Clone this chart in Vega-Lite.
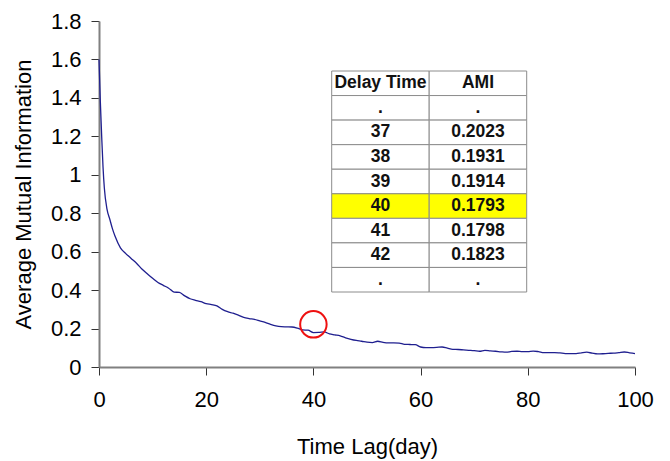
{
  "$schema": "https://vega.github.io/schema/vega-lite/v6.json",
  "width": 536,
  "height": 346,
  "autosize": "none",
  "padding": {"left": 99, "top": 21, "right": 35, "bottom": 94},
  "background": "white",
  "config": {
    "view": {"stroke": null},
    "font": "Liberation Sans"
  },
  "datasets": {
    "ami": [
      {"day": 0, "ami": 1.60}, {"day": 0.25, "ami": 1.38}, {"day": 0.5, "ami": 1.20}, {"day": 0.75, "ami": 1.04},
      {"day": 1, "ami": 0.93}, {"day": 1.5, "ami": 0.82}, {"day": 2, "ami": 0.77}, {"day": 2.5, "ami": 0.72},
      {"day": 3, "ami": 0.68}, {"day": 4, "ami": 0.62}, {"day": 5, "ami": 0.59}, {"day": 6, "ami": 0.565},
      {"day": 7, "ami": 0.54}, {"day": 8, "ami": 0.51}, {"day": 9, "ami": 0.485}, {"day": 10, "ami": 0.462},
      {"day": 11, "ami": 0.44}, {"day": 12, "ami": 0.425}, {"day": 13, "ami": 0.41}, {"day": 14, "ami": 0.39},
      {"day": 15, "ami": 0.388}, {"day": 16, "ami": 0.37}, {"day": 17, "ami": 0.355}, {"day": 18, "ami": 0.347},
      {"day": 19, "ami": 0.34}, {"day": 20, "ami": 0.33}, {"day": 21, "ami": 0.325}, {"day": 22, "ami": 0.318},
      {"day": 23, "ami": 0.30}, {"day": 24, "ami": 0.288}, {"day": 25, "ami": 0.28}, {"day": 26, "ami": 0.27},
      {"day": 27, "ami": 0.258}, {"day": 28, "ami": 0.252}, {"day": 29, "ami": 0.248}, {"day": 30, "ami": 0.24},
      {"day": 31, "ami": 0.232}, {"day": 32, "ami": 0.222}, {"day": 33, "ami": 0.214}, {"day": 34, "ami": 0.21},
      {"day": 35, "ami": 0.209}, {"day": 36, "ami": 0.208}, {"day": 37, "ami": 0.2023}, {"day": 38, "ami": 0.1931},
      {"day": 39, "ami": 0.1914}, {"day": 40, "ami": 0.1793}, {"day": 41, "ami": 0.1798}, {"day": 42, "ami": 0.1823},
      {"day": 43, "ami": 0.172}, {"day": 44, "ami": 0.167}, {"day": 45, "ami": 0.162}, {"day": 46, "ami": 0.152},
      {"day": 47, "ami": 0.144}, {"day": 48, "ami": 0.138}, {"day": 49, "ami": 0.134}, {"day": 50, "ami": 0.129},
      {"day": 51, "ami": 0.127}, {"day": 52, "ami": 0.134}, {"day": 53, "ami": 0.128}, {"day": 54, "ami": 0.125},
      {"day": 55, "ami": 0.125}, {"day": 56, "ami": 0.124}, {"day": 57, "ami": 0.118}, {"day": 58, "ami": 0.117},
      {"day": 59, "ami": 0.116}, {"day": 60, "ami": 0.104}, {"day": 61, "ami": 0.101}, {"day": 62, "ami": 0.101},
      {"day": 63, "ami": 0.102}, {"day": 64, "ami": 0.104}, {"day": 65, "ami": 0.098}, {"day": 66, "ami": 0.092},
      {"day": 67, "ami": 0.091}, {"day": 68, "ami": 0.089}, {"day": 69, "ami": 0.087}, {"day": 70, "ami": 0.085},
      {"day": 71, "ami": 0.082}, {"day": 72, "ami": 0.087}, {"day": 73, "ami": 0.084}, {"day": 74, "ami": 0.082},
      {"day": 75, "ami": 0.079}, {"day": 76, "ami": 0.077}, {"day": 77, "ami": 0.081}, {"day": 78, "ami": 0.082},
      {"day": 79, "ami": 0.080}, {"day": 80, "ami": 0.080}, {"day": 81, "ami": 0.083}, {"day": 82, "ami": 0.080},
      {"day": 83, "ami": 0.075}, {"day": 84, "ami": 0.075}, {"day": 85, "ami": 0.075}, {"day": 86, "ami": 0.073},
      {"day": 87, "ami": 0.070}, {"day": 88, "ami": 0.070}, {"day": 89, "ami": 0.070}, {"day": 90, "ami": 0.074},
      {"day": 91, "ami": 0.077}, {"day": 92, "ami": 0.072}, {"day": 93, "ami": 0.068}, {"day": 94, "ami": 0.069},
      {"day": 95, "ami": 0.071}, {"day": 96, "ami": 0.072}, {"day": 97, "ami": 0.075}, {"day": 98, "ami": 0.078},
      {"day": 99, "ami": 0.074}, {"day": 100, "ami": 0.070}
    ],
    "marker": [{"day": 40, "ami": 0.222}],
    "table": [
      {"r": "h", "delay": "Delay Time", "ami": "AMI"},
      {"r": "a", "delay": ".", "ami": "."},
      {"r": "37", "delay": "37", "ami": "0.2023"},
      {"r": "38", "delay": "38", "ami": "0.1931"},
      {"r": "39", "delay": "39", "ami": "0.1914"},
      {"r": "40", "delay": "40", "ami": "0.1793"},
      {"r": "41", "delay": "41", "ami": "0.1798"},
      {"r": "42", "delay": "42", "ami": "0.1823"},
      {"r": "z", "delay": ".", "ami": "."}
    ]
  },
  "layer": [
    {
      "encoding": {
        "x": {
          "field": "day", "type": "quantitative",
          "scale": {"domain": [0, 100], "nice": false},
          "axis": {
            "title": "Time Lag(day)", "values": [0, 20, 40, 60, 80, 100],
            "grid": false, "domainColor": "#808080", "domainWidth": 2,
            "tickColor": "#333333", "tickSize": 8, "tickWidth": 1,
            "labelFontSize": 22, "labelColor": "black", "labelPadding": 14,
            "labelOverlap": false, "labelBound": false, "labelFlush": false,
            "titleFontSize": 22, "titleFontWeight": "normal", "titleColor": "black", "titlePadding": 26
          }
        },
        "y": {
          "field": "ami", "type": "quantitative",
          "scale": {"domain": [0, 1.8], "nice": false},
          "axis": {
            "title": "Average Mutual Information", "values": [0, 0.2, 0.4, 0.6, 0.8, 1, 1.2, 1.4, 1.6, 1.8],
            "format": "~g",
            "grid": false, "domainColor": "#808080", "domainWidth": 2,
            "tickColor": "#333333", "tickSize": 8, "tickWidth": 1,
            "labelFontSize": 22, "labelColor": "black", "labelPadding": 10,
            "labelOverlap": false, "labelBound": false, "labelFlush": false,
            "titleFontSize": 22, "titleFontWeight": "normal", "titleColor": "black", "titlePadding": 15
          }
        }
      },
      "layer": [
        {
          "data": {"name": "ami"},
          "mark": {"type": "line", "color": "#1f1f8f", "strokeWidth": 1.3, "interpolate": "monotone"}
        },
        {
          "data": {"name": "marker"},
          "mark": {"type": "point", "shape": "circle", "filled": false, "color": "#ee1111", "strokeWidth": 2, "size": 700, "opacity": 1}
        }
      ]
    },
    {
      "data": {"name": "table"},
      "transform": [{"fold": ["delay", "ami"], "as": ["col", "txt"]}],
      "encoding": {
        "x": {
          "field": "col", "type": "nominal",
          "scale": {"type": "band", "domain": ["delay", "ami"], "range": [232.7, 427.7], "paddingInner": 0, "paddingOuter": 0},
          "axis": null
        },
        "y": {
          "field": "r", "type": "nominal",
          "scale": {"type": "band", "domain": ["h", "a", "37", "38", "39", "40", "41", "42", "z"], "range": [50, 271], "paddingInner": 0, "paddingOuter": 0},
          "axis": null
        }
      },
      "layer": [
        {
          "mark": {"type": "rect", "stroke": "#8c8c8c", "strokeWidth": 1},
          "encoding": {
            "fill": {"condition": {"test": "datum.r === '40'", "value": "#ffff00"}, "value": "white"}
          }
        },
        {
          "mark": {"type": "text", "fontWeight": "bold", "fontSize": 17.5, "color": "#111111", "baseline": "middle", "align": "center"},
          "encoding": {"text": {"field": "txt", "type": "nominal"}}
        }
      ]
    }
  ],
  "resolve": {"scale": {"x": "independent", "y": "independent"}}
}
